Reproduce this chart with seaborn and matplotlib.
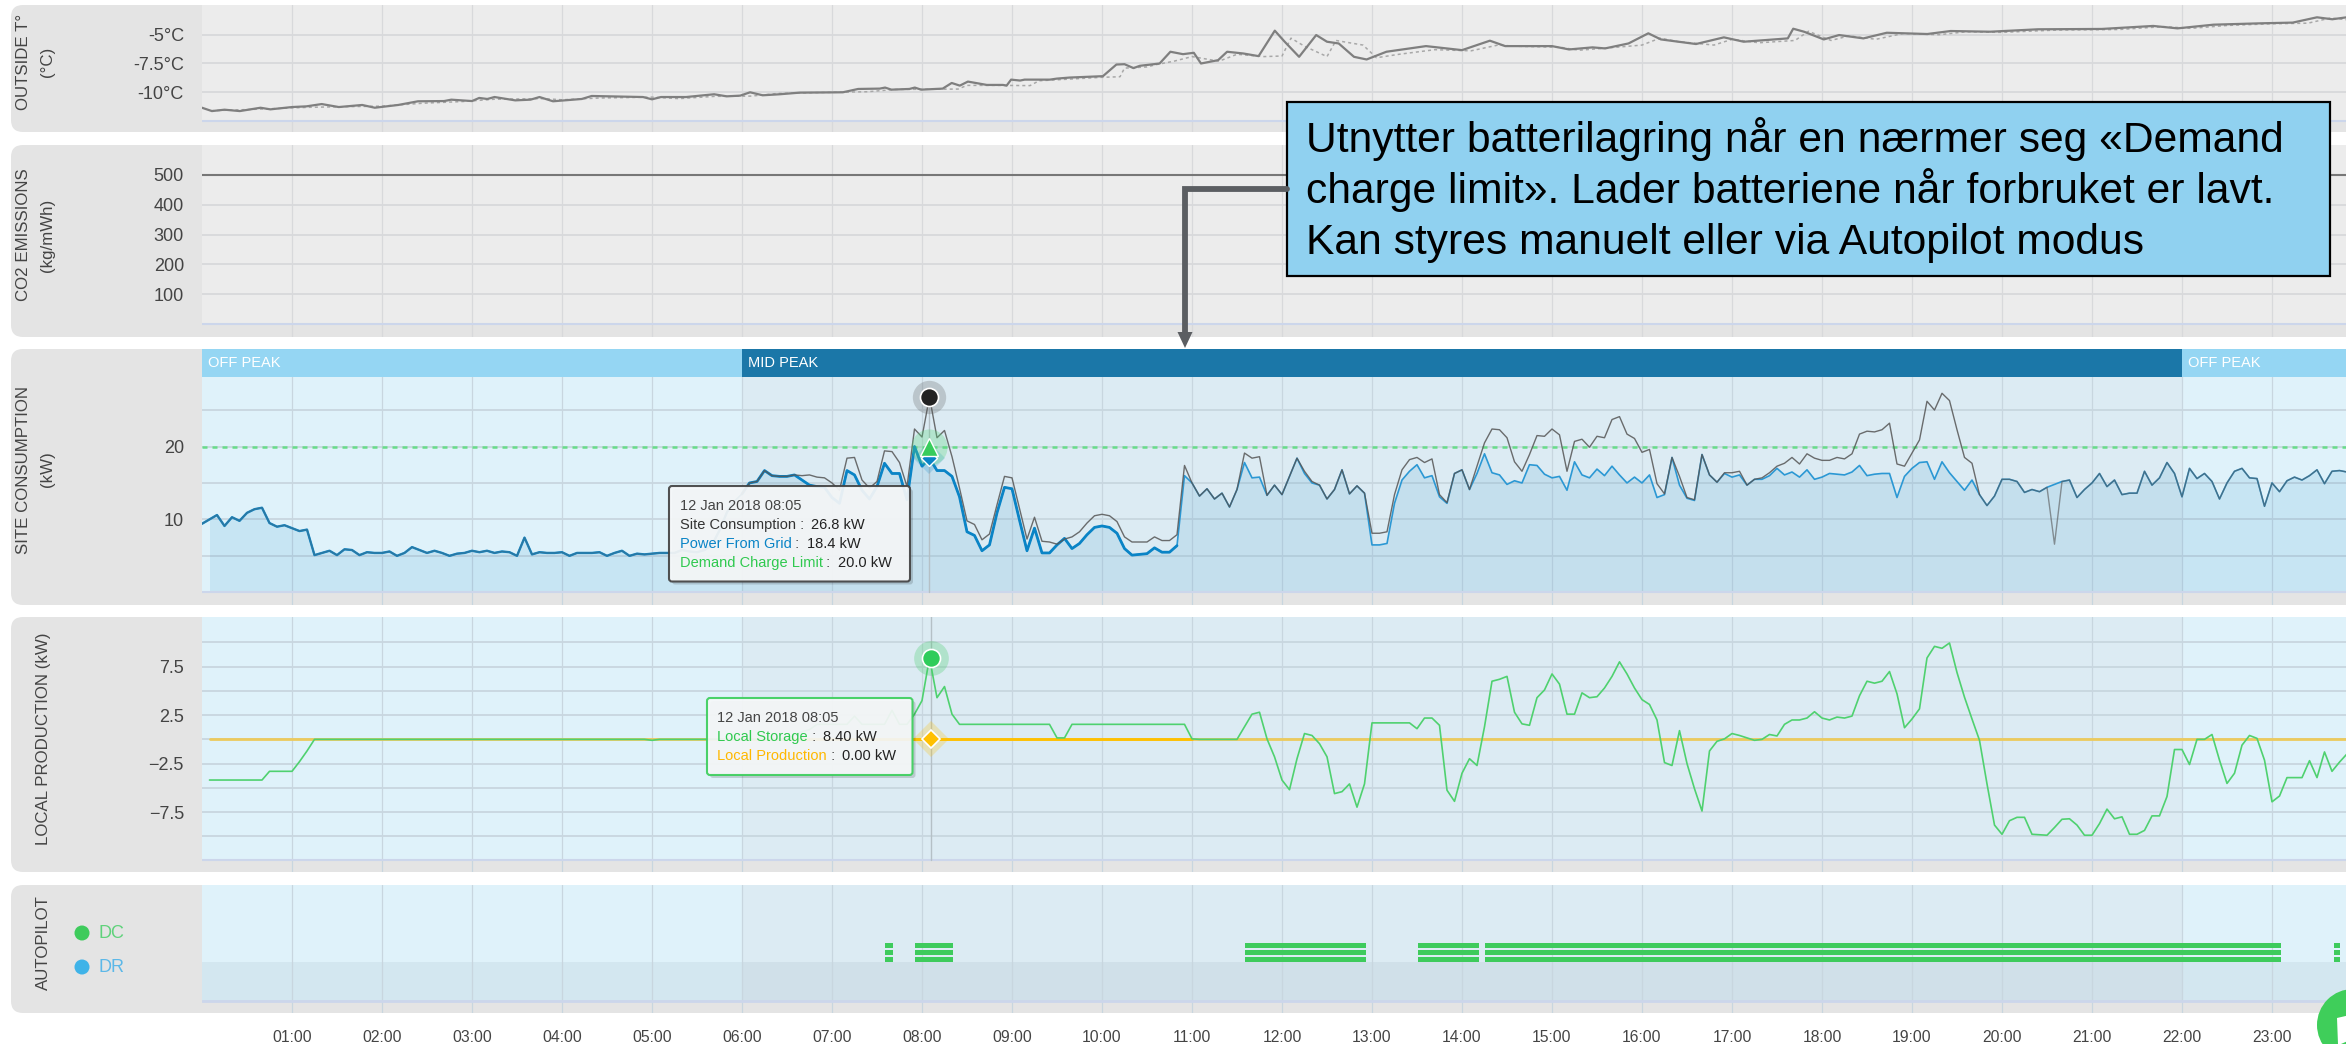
import numpy as np
import pandas as pd
import matplotlib
matplotlib.use("Agg")
import matplotlib.pyplot as plt
from matplotlib.patches import FancyBboxPatch, Rectangle, Circle, Polygon
import seaborn as sns

# ── Data ───────────────────────────────────────────────────────────────────────
hour_labels = ["01:00", "02:00", "03:00", "04:00", "05:00", "06:00", "07:00", "08:00",
               "09:00", "10:00", "11:00", "12:00", "13:00", "14:00", "15:00", "16:00",
               "17:00", "18:00", "19:00", "20:00", "21:00", "22:00", "23:00"]
hour_ticks = list(range(1, 24))

temp_hours = [0, .11, .25, .42, .65, .76, 1.0, 1.16, 1.33, 1.52, 1.78, 1.92, 2.18, 2.4, 2.69, 2.77, 3.0,
              3.08, 3.17, 3.25, 3.48, 3.65, 3.75, 3.9, 4.22, 4.33, 4.9, 5.0, 5.1, 5.38, 5.69, 5.83, 5.98,
              6.09, 6.23, 6.42, 6.64, 7.12, 7.29, 7.53, 7.59, 7.66, 7.86, 7.92, 7.99, 8.23, 8.33, 8.42,
              8.51, 8.72, 8.9, 8.94, 8.99, 9.09, 9.14, 9.42, 9.5, 9.64, 10.01, 10.16, 10.25, 10.35, 10.42,
              10.64, 10.76, 10.9, 11.02, 11.1, 11.29, 11.39, 11.57, 11.74, 11.92, 12.03, 12.19, 12.38,
              12.5, 12.63, 12.8, 12.94, 13.16, 13.6, 14.0, 14.31, 14.48, 15.0, 15.19, 15.45, 15.59, 15.85,
              16.07, 16.21, 16.6, 16.91, 17.13, 17.62, 17.68, 17.8, 18.02, 18.19, 18.46, 18.72, 19.17,
              19.43, 19.87, 20.4, 21.11, 21.68, 21.95, 22.35, 22.88, 23.23, 23.5, 23.67, 23.83]
temp_values = [-11.34, -11.63, -11.51, -11.63, -11.34, -11.48, -11.28, -11.22, -11.02, -11.28, -11.1, -11.34,
               -11.1, -10.78, -10.76, -10.64, -10.76, -10.49, -10.58, -10.41, -10.7, -10.64, -10.41, -10.78,
               -10.58, -10.32, -10.41, -10.61, -10.41, -10.41, -10.17, -10.35, -10.29, -10.0, -10.26, -10.17,
               -10.03, -10.0, -9.71, -9.68, -9.59, -9.77, -9.71, -9.59, -9.77, -9.68, -9.19, -9.42, -9.07,
               -9.36, -9.36, -9.42, -8.9, -8.98, -8.9, -8.9, -8.81, -8.72, -8.6, -7.59, -7.56, -7.9, -7.7,
               -7.5, -6.48, -6.69, -6.57, -7.5, -7.21, -6.48, -6.63, -6.86, -4.65, -5.61, -6.92, -5.03, -5.61,
               -5.76, -6.92, -7.15, -6.48, -5.99, -6.34, -5.52, -5.99, -5.99, -6.28, -6.1, -6.19, -5.76, -4.88,
               -5.41, -5.81, -5.23, -5.61, -5.32, -4.48, -4.74, -5.41, -5.03, -5.32, -4.83, -4.94, -4.68, -4.74,
               -4.53, -4.5, -4.24, -4.45, -4.13, -4.01, -3.95, -3.49, -3.66, -3.49]

temp_prev_hours = [.1, .5, .85, 1.2, 1.6, 2.0, 2.45, 2.9, 3.25, 3.8, 4.0, 4.4, 5.0, 5.3, 5.7, 6.1, 6.4, 6.8, 7.4,
                   7.7, 8.4, 8.5, 8.9, 9.2, 9.3, 10.0, 10.2, 10.25, 10.5, 10.6, 10.8, 11.0, 11.3, 11.5, 11.8,
                   12.0, 12.1, 12.25, 12.5, 12.6, 12.9, 13.05, 13.3, 13.7, 14.1, 14.4, 14.6, 15.1, 15.3, 15.7,
                   16.0, 16.2, 16.4, 16.8, 17.0, 17.3, 17.7, 17.85, 18.1, 18.3, 18.6, 18.9, 19.3, 19.6, 20.0,
                   20.6, 21.3, 21.8, 22.1, 22.5, 23.0, 23.4, 23.65, 23.83]
temp_prev_values = [-11.6, -11.5, -11.4, -11.3, -11.25, -11.2, -10.95, -10.8, -10.6, -10.55, -10.65, -10.5, -10.42,
                    -10.55, -10.35, -10.33, -10.1, -10.03, -9.95, -9.75, -9.72, -9.4, -9.4, -9.42, -9.0, -8.7,
                    -8.65, -7.9, -7.8, -7.6, -7.3, -6.9, -7.3, -6.7, -6.9, -6.85, -5.3, -6.0, -6.9, -5.5, -5.9,
                    -7.0, -6.7, -6.3, -6.4, -5.9, -6.0, -6.1, -6.35, -6.1, -5.9, -5.3, -5.6, -5.9, -5.4, -5.7,
                    -5.5, -4.7, -5.5, -5.1, -5.4, -4.9, -5.0, -4.75, -4.8, -4.6, -4.55, -4.3, -4.45, -4.2, -4.05,
                    -4.0, -3.55, -3.7]

co2_hours = [0, 24]
co2_values = [500, 500]

# 5 minute samples
power_from_grid = [
    9.4, 10.0, 10.6, 9.1, 10.3, 9.8, 10.9, 11.4, 11.6, 9.5,
    9.0, 9.2, 8.8, 8.4, 8.6, 5.1, 5.4, 5.7, 5.1, 5.9,
    5.8, 5.1, 5.5, 5.4, 5.4, 5.6, 5.0, 5.4, 6.2, 5.8,
    5.4, 5.7, 5.4, 5.0, 5.3, 5.4, 5.7, 5.5, 5.7, 5.4,
    5.6, 5.5, 5.0, 7.5, 5.2, 5.5, 5.4, 5.4, 5.5, 5.0,
    5.4, 5.4, 5.4, 5.5, 5.0, 5.4, 5.7, 5.0, 5.3, 5.2,
    5.3, 5.4, 5.4, 5.4, 5.8, 5.6, 5.5, 5.8, 6.5, 8.5,
    11.0, 12.5, 13.5, 15.0, 15.2, 16.7, 16.0, 15.9, 15.9, 16.1,
    15.4, 14.7, 14.5, 14.4, 13.0, 12.2, 16.7, 16.1, 14.0, 12.8,
    14.5, 17.7, 16.3, 16.3, 12.7, 20.0, 17.3, 18.4, 16.7, 16.7,
    15.9, 13.1, 8.3, 7.8, 5.7, 6.5, 10.9, 14.4, 14.2, 9.9,
    5.7, 8.8, 5.4, 5.4, 6.5, 7.4, 6.0, 6.7, 7.9, 8.9,
    9.1, 8.9, 8.1, 6.0, 5.1, 5.2, 5.3, 6.1, 5.5, 5.5,
    6.4, 16.0, 15.0, 13.2, 14.2, 12.8, 13.6, 11.7, 14.1, 17.8,
    15.7, 15.8, 13.3, 14.7, 13.4, 15.9, 18.4, 16.3, 15.0, 14.7,
    12.8, 14.1, 16.8, 13.5, 14.6, 13.6, 6.5, 6.5, 6.7, 12.2,
    15.4, 16.6, 17.5, 15.7, 16.0, 13.1, 12.2, 16.3, 16.8, 14.1,
    16.3, 19.0, 16.4, 16.1, 14.8, 15.3, 15.0, 17.5, 17.4, 16.2,
    15.7, 15.9, 14.0, 17.9, 16.1, 15.7, 16.9, 16.0, 17.3, 16.1,
    15.0, 15.8, 15.0, 16.1, 13.0, 13.4, 18.5, 14.7, 12.9, 12.6,
    18.9, 16.1, 15.1, 16.3, 15.8, 16.1, 14.7, 15.5, 15.5, 16.0,
    17.0, 16.1, 16.5, 15.8, 16.8, 15.5, 15.8, 16.3, 16.2, 16.1,
    16.5, 17.4, 16.0, 16.2, 16.3, 16.3, 13.0, 15.9, 17.0, 17.8,
    17.9, 15.5, 17.9, 16.4, 15.2, 14.0, 15.4, 13.4, 11.9, 13.2,
    15.5, 15.5, 15.2, 13.7, 14.1, 13.8, 14.4, 14.8, 15.2, 15.4,
    13.0, 14.1, 15.0, 16.3, 14.5, 15.4, 13.4, 13.6, 13.6, 16.6,
    14.7, 15.7, 17.8, 16.3, 13.1, 17.0, 15.6, 16.3, 15.2, 12.8,
    15.0, 16.6, 17.0, 15.7, 15.6, 11.8, 15.0, 13.8, 15.3, 15.8,
    15.4, 16.0, 16.8, 14.9, 16.6, 16.7, 16.5,
]
# same reading as the grid up to 80 and from 250 on
site_consumption = power_from_grid[:80] + [
    16.0, 16.1, 15.8, 15.7, 15.0, 14.0, 18.4, 18.5, 15.4, 14.3,
    15.2, 19.4, 19.3, 17.8, 14.5, 22.4, 21.3, 26.8, 21.2, 22.2,
    18.6, 14.3, 9.8, 9.3, 7.2, 8.0, 12.0, 15.9, 15.7, 11.5,
    7.3, 10.3, 7.0, 6.9, 6.6, 7.3, 7.6, 8.3, 9.5, 10.5,
    10.7, 10.5, 9.7, 7.6, 6.9, 6.9, 6.9, 7.6, 7.1, 7.1,
    7.9, 17.4, 15.0, 13.2, 14.2, 12.8, 13.6, 11.7, 14.1, 19.1,
    18.4, 18.6, 13.3, 14.7, 13.4, 15.9, 18.4, 16.6, 15.2, 14.7,
    12.8, 14.1, 16.8, 13.5, 14.6, 13.6, 8.1, 8.1, 8.3, 13.4,
    16.8, 18.2, 18.5, 17.8, 18.3, 13.4, 12.3, 16.3, 16.8, 14.1,
    17.3, 20.5, 22.4, 22.3, 21.2, 17.9, 16.6, 18.9, 21.5, 21.4,
    22.4, 21.6, 16.6, 20.7, 21.0, 19.9, 21.4, 21.2, 23.7, 24.1,
    21.7, 21.1, 19.2, 19.6, 14.9, 13.5, 18.5, 15.9, 13.0, 12.7,
    18.9, 16.1, 15.1, 16.4, 16.4, 16.6, 14.7, 15.5, 15.7, 16.4,
    17.3, 17.7, 18.5, 17.6, 19.0, 18.4, 18.1, 18.1, 18.5, 18.3,
    19.0, 21.7, 22.1, 22.0, 22.3, 23.2, 17.6, 17.3, 19.1, 20.9,
    26.2, 25.0, 27.3, 26.3, 22.3, 18.5, 17.7, 13.4, 11.9, 13.2,
    15.5, 15.5, 15.2, 13.7, 14.1, 13.8, 14.4, 6.6, 15.2, 15.4,
] + power_from_grid[250:]

local_storage = [np.nan] + [-4.2] * 8 + [-3.3] * 4 + [-2.3, -1.2] + [0.0] * 45 + [-0.1] + [0.0] * 18 + [
    0.5, 0.8, 1.0, 1.55, 1.55, 1.55, 1.55, 1.55, 2.4, 1.55,
    1.55, 1.55, 1.55, 3.0, 1.55, 1.55, 2.6, 4.0, 8.4, 4.3, 5.45,
    2.6] + [1.55] * 13 + [0.15, 0.15] + [1.55] * 16 + [0.05] + [0.0] * 6 + [
    1.3,
    2.6, 2.8, .05, -1.8, -4.2, -5.2, -2, .6, .4, -.45,
    -1.8, -5.6, -5.4, -4.6, -7, -4.6, 1.7, 1.7, 1.7, 1.7,
    1.7, 1.7, 1.1, 2.2, 2.2, 1.45, -5.25, -6.4, -3.5, -2,
    -2.7, 1.3, 6, 6.2, 6.5, 2.8, 1.6, 1.45, 4.3, 5.1,
    6.75, 5.7, 2.6, 2.6, 4.8, 4.3, 4.4, 5.3, 6.5, 8,
    6.75, 5.3, 4.1, 3.6, 2, -2.4, -2.7, .9, -2.5, -5.1,
    -7.4, -1.2, -.2, .05, .6, .4, .15, -.1, 0, .5,
    .35, 1.55, 2, 2, 2.2, 2.85, 2.2, 2, 2.3, 2.2,
    2.4, 4.5, 6, 5.8, 6, 7, 4.7, 1.2, 2.1, 3.15,
    8.4, 9.6, 9.4, 9.95, 6.9, 4.35, 2.1, -.1, -4.6, -8.85,
    -9.8, -8.4, -8.05, -8.05, -9.8, -9.85, -9.9, -9.1, -8.25, -8.2,
    -8.85, -9.9, -9.9, -8.7, -7.2, -8.2, -8, -9.8, -9.8, -9.4,
    -7.9, -7.9, -5.9, -1.05, -1.05, -2.6, 0, 0, .5, -2.15,
    -4.55, -3.5, -.6, .4, .1, -2.15, -6.45, -5.85, -3.95, -3.95,
    -3.95, -2.2, -3.95, -1.3, -3.3, -2.35, -1.5,
]

limit_hours = [0, 24]
demand_limit = [20, 20]
local_prod_hours = [1 / 12, 6, 11, 24]
local_production = [0, 0, 0, 0]

autopilot_start = [7.586, 7.92, 11.59, 13.51, 14.26, 23.69]
autopilot_end = [7.678, 8.34, 12.93, 14.19, 23.10, 23.76]

# ── Layout, in reference pixels ────────────────────────────────────────────────
W, H = 2346, 1044
X0 = 202
HOUR_PX = 90
XMAX = (W - X0) / HOUR_PX
SAMPLE = 97  # 08:05 hover

GREY = "#e4e4e4"
PLOT_GREY = "#ececec"
OFF_BG = "#dff2fa"
MID_BG = "#dcebf3"
OFF_HEAD = "#95d6f3"
MID_HEAD = "#1b77a8"
BLUE = "#0a84c6"
DARK = "#555555"
GREEN = "#4fd16f"
ORANGE = "#ffc000"
TXT = "#444444"
GRID_C = "#c8d6df"

sns.set_style("white")
plt.rcParams["font.family"] = ["Liberation Sans", "DejaVu Sans"]

fig = plt.figure(figsize=(W / 100, H / 100), dpi=100, facecolor="white")


def px_axes(zorder=1):
    a = fig.add_axes([0, 0, 1, 1], zorder=zorder)
    a.set_xlim(0, W)
    a.set_ylim(H, 0)
    a.axis("off")
    return a


back = px_axes(0)
over = px_axes(10)

panels = [(5, 132), (145, 337), (349, 605), (617, 872), (885, 1013)]
for top, bot in panels:
    back.add_patch(FancyBboxPatch((11, top), W + 60, bot - top,
                                  boxstyle="round,pad=0,rounding_size=12",
                                  fc=GREY, ec="none", mutation_aspect=1))


def chart_axes(top, bot, p0, v0, p1, v1, grid_c, major, minor=()):
    # axis spans the whole panel; limits come from two gridline positions
    ax = fig.add_axes([X0 / W, 1 - bot / H, (W - X0) / W, (bot - top) / H], zorder=2)
    ax.patch.set_alpha(0)
    per_px = (v1 - v0) / (p1 - p0)
    ax.set_ylim(v0 + (bot - p0) * per_px, v0 + (top - p0) * per_px)
    ax.set_xlim(0, XMAX)
    ax.set_xticks(hour_ticks)
    ax.set_xticklabels([])
    ax.set_yticks(list(major))
    ax.set_yticks(list(minor), minor=True)
    ax.tick_params(axis="both", which="both", length=0)
    ax.tick_params(axis="y", labelsize=13, labelcolor=TXT, pad=13)
    ax.set_axisbelow(True)
    ax.grid(axis="x", color=grid_c, lw=0.9)
    ax.grid(axis="y", which="both", color=grid_c, lw=1.3)
    sns.despine(ax=ax, left=True, bottom=True)
    ax.set_xlabel("")
    ax.set_ylabel("")
    return ax


def tou_background(ax, y0, y1):
    for a, b, c in [(0, 6, OFF_BG), (6, 22, MID_BG), (22, 24, OFF_BG)]:
        ax.fill_between([a, b], y0, y1, color=c, lw=0, zorder=0.1)


def line(ax, x, y, **kw):
    d = pd.DataFrame({"x": x, "y": y}).dropna()
    sns.lineplot(data=d, x="x", y="y", ax=ax, estimator=None, errorbar=None, **kw)
    ax.set_xlabel("")
    ax.set_ylabel("")


samples = np.arange(len(power_from_grid)) / 12
df = pd.DataFrame({"hour": samples, "grid": power_from_grid,
                   "site": site_consumption, "storage": local_storage})

# ── Outside temperature ────────────────────────────────────────────────────────
ax1 = chart_axes(5, 132, 34.7, -5, 92.3, -10, "#d8d9db", [-5, -7.5, -10], [-12.5])
ax1.set_yticklabels(["-5°C", "-7.5°C", "-10°C"])
ax1.fill_between([0, 24], -12.5, -2, color=PLOT_GREY, lw=0, zorder=0.1)
line(ax1, temp_prev_hours, temp_prev_values, color="#a8a8a8", lw=1.1, linestyle=(0, (2, 2)))
line(ax1, temp_hours, temp_values, color="#7f7f7f", lw=1.6)

# ── CO2 ────────────────────────────────────────────────────────────────────────
ax2 = chart_axes(145, 337, 174.7, 500, 324.3, 0, "#d8d9db", [500, 400, 300, 200, 100], [0])
ax2.fill_between([0, 24], 0, 600, color=PLOT_GREY, lw=0, zorder=0.1)
line(ax2, co2_hours, co2_values, color="#777777", lw=1.5)

# ── Site consumption ───────────────────────────────────────────────────────────
ax3 = chart_axes(349, 605, 446.5, 20, 592.3, 0, GRID_C, [10, 20], [0, 5, 15, 25])
tou_background(ax3, 0, 29.6)
ax3.fill_between(samples[1:], 0, power_from_grid[1:], color="#2a8fc8", alpha=0.13, lw=0, zorder=1)
line(ax3, limit_hours, demand_limit, color="#68dc8a", lw=1.8, linestyle=(0, (2, 2)), zorder=2)
thick = df[(df.hour >= 6) & (df.hour <= 10.85)]
line(ax3, df.hour, df.grid, color="#2b98d4", lw=1.2, zorder=3)
line(ax3, thick.hour, thick.grid, color=BLUE, lw=2.0, zorder=3)
line(ax3, df.hour[:72], df.grid[:72], color="#1b86c0", lw=1.7, zorder=3)
# grey trace sits almost fully under the blue one at both ends of the day
line(ax3, df.hour[:73], df.site[:73], color=DARK, lw=0.9, alpha=0.3, zorder=4)
line(ax3, df.hour[72:238], df.site[72:238], color=DARK, lw=1.0, alpha=0.85, zorder=4)
line(ax3, df.hour[237:], df.site[237:], color=DARK, lw=1.0, alpha=0.6, zorder=4)
for a, b, c, t in [(0, 6, OFF_HEAD, "OFF PEAK"), (6, 22, MID_HEAD, "MID PEAK"), (22, 24, OFF_HEAD, "OFF PEAK")]:
    ax3.fill_between([a, b], 29.6, 36, color=c, lw=0, zorder=2.5)
    ax3.text(a + 0.07, 31.5, t, color="white", fontsize=10.5, va="center", zorder=3)
hover_x = samples[SAMPLE]
ax3.plot([hover_x, hover_x], [0, 26.8], color="#b5c0c6", lw=1, zorder=1.5)
ax3.plot(hover_x, site_consumption[SAMPLE], "o", ms=24, color="#555555", alpha=0.25, mew=0, zorder=5)
ax3.plot(hover_x, site_consumption[SAMPLE], "o", ms=13, mfc="#222222", mec="white", mew=1.2, zorder=6)
ax3.plot(hover_x, power_from_grid[SAMPLE], "D", ms=16, color=BLUE, alpha=0.2, mew=0, zorder=5)
ax3.plot(hover_x, power_from_grid[SAMPLE], "D", ms=8, mfc=BLUE, mec="white", mew=1, zorder=6)
ax3.plot(hover_x, demand_limit[0], "o", ms=26, color="#55d77a", alpha=0.3, mew=0, zorder=5)
ax3.plot(hover_x, demand_limit[0], "^", ms=13, mfc="#38cc5c", mec="white", mew=1, zorder=6)

# ── Local production ───────────────────────────────────────────────────────────
ax4 = chart_axes(617, 872, 666.7, 7.5, 812, -7.5, GRID_C, [7.5, 2.5, -2.5, -7.5], [10, 5, 0, -5, -10, -12.5])
tou_background(ax4, -12.5, 13)
line(ax4, local_prod_hours, local_production, color="#ecca5c", lw=2.0, zorder=2)
line(ax4, local_prod_hours[1:3], local_production[1:3], color=ORANGE, lw=2.0, zorder=2.1)
line(ax4, df.hour, df.storage, color=GREEN, lw=1.2, zorder=3)
ax4.plot([hover_x + 0.02, hover_x + 0.02], [-12.5, 13], color="#b5c0c6", lw=1, zorder=1.5)
ax4.plot(hover_x + 0.02, local_storage[SAMPLE], "o", ms=25, color="#40cc66", alpha=0.28, mew=0, zorder=5)
ax4.plot(hover_x + 0.02, local_storage[SAMPLE], "o", ms=13, mfc="#2ecc5a", mec="white", mew=1.2, zorder=6)
ax4.plot(hover_x + 0.02, 0, "D", ms=18, color=ORANGE, alpha=0.25, mew=0, zorder=5)
ax4.plot(hover_x + 0.02, 0, "D", ms=9, mfc=ORANGE, mec="white", mew=1.2, zorder=6)

# ── Autopilot ──────────────────────────────────────────────────────────────────
ax5 = chart_axes(885, 1013, 885, 885, 1013, 1013, GRID_C, [], [])
ax5.fill_between([0, 6], 1001, 885, color=OFF_BG, lw=0, zorder=0.1)
ax5.fill_between([6, 22], 1001, 885, color=MID_BG, lw=0, zorder=0.1)
ax5.fill_between([22, 24], 1001, 885, color=OFF_BG, lw=0, zorder=0.1)
ax5.fill_between([0, 24], 1001, 962, color="#7f98a8", alpha=0.12, lw=0, zorder=0.2)
ax5.plot([0, 24], [1001, 1001], color="#ccd6eb", lw=2, zorder=1)
for row in [945, 952.6, 959.6]:
    ax5.barh([row] * len(autopilot_start),
             np.array(autopilot_end) - np.array(autopilot_start),
             left=autopilot_start, height=5, color="#3ecb5c", lw=0, zorder=3)
ax5.set_xticklabels(hour_labels, fontsize=11.3, color=TXT)
ax5.tick_params(axis="x", pad=12)

# plot-bottom lines on the other panels
for a, v in [(ax1, -12.5), (ax2, 0), (ax3, 0), (ax4, -12.5)]:
    a.axhline(v, color="#ccd6eb", lw=1.5, zorder=1)

# ── Panel labels ───────────────────────────────────────────────────────────────
lab = dict(rotation=90, ha="center", va="center", color=TXT, fontsize=12.2)
over.text(24, 62, "OUTSIDE T°", **lab)
over.text(47, 62, "(°C)", **lab)
over.text(24, 235, "CO2 EMISSIONS", **lab)
over.text(47, 235, "(kg/mWh)", **lab)
over.text(24, 470, "SITE CONSUMPTION", **lab)
over.text(47, 469, "(kW)", **lab)
over.text(44, 739, "LOCAL PRODUCTION (kW)", **lab)
over.text(43.5, 943, "AUTOPILOT", **lab)
over.add_patch(Circle((82, 933), 7.5, fc="#3ecb5c", ec="none"))
over.add_patch(Circle((82, 967), 7.5, fc="#3fb3e8", ec="none"))
over.text(99, 933, "DC", color="#5fd27b", fontsize=13, va="center")
over.text(99, 967, "DR", color="#5cb8e8", fontsize=13, va="center")


# ── Tooltips ───────────────────────────────────────────────────────────────────
def tooltip(x0, y0, x1, y1, edge, rows, tx):
    over.add_patch(FancyBboxPatch((x0 + 3, y0 + 3), x1 - x0, y1 - y0, boxstyle="round,pad=0,rounding_size=3",
                                  fc="black", ec="none", alpha=0.15))
    over.add_patch(FancyBboxPatch((x0, y0), x1 - x0, y1 - y0, boxstyle="round,pad=0,rounding_size=3",
                                  fc="#f6f8f9", ec=edge, lw=1.5, alpha=0.93))
    rend = fig.canvas.get_renderer()
    for yy, parts in rows:
        x = tx
        for s, c in parts:
            t = over.text(x, yy, s, color=c, fontsize=10.5, va="center")
            x += t.get_window_extent(rend).width + (3.5 if s.endswith(" ") else 0)


tooltip(669, 486, 910, 581.5, "#444444", [
    (505.7, [("12 Jan 2018 08:05", TXT)]),
    (525, [("Site Consumption", "#333333"), (" : ", TXT), ("26.8 kW", "#222222")]),
    (544, [("Power From Grid", "#0a84c6"), (" : ", TXT), ("18.4 kW", "#222222")]),
    (563, [("Demand Charge Limit", "#2fc94f"), (" : ", TXT), ("20.0 kW", "#222222")]),
], 679.5)
tooltip(707, 698, 912.5, 775, "#3ecf5e", [
    (717.7, [("12 Jan 2018 08:05", TXT)]),
    (736.7, [("Local Storage", "#2fc94f"), (" : ", TXT), ("8.40 kW", "#222222")]),
    (756, [("Local Production", "#ffb800"), (" : ", TXT), ("0.00 kW", "#222222")]),
], 717)

# ── Callout and arrow ──────────────────────────────────────────────────────────
over.plot([1287, 1185, 1185], [189, 189, 334], color="#5b5e62", lw=4.2, solid_joinstyle="miter")
over.add_patch(Polygon([(1177.5, 332), (1192.5, 332), (1185, 348)], fc="#5b5e62", ec="none"))
over.add_patch(Rectangle((1287, 102), 1043, 174, fc="#90d1f0", ec="black", lw=1.6))
for yy, s in [(151.7, "Utnytter batterilagring når en nærmer seg «Demand"),
              (203, "charge limit». Lader batteriene når forbruket er lavt."),
              (254, "Kan styres manuelt eller via Autopilot modus")]:
    over.text(1306.5, yy, s, color="black", fontsize=30.7, va="baseline")

# chat button in the corner
over.add_patch(Circle((2353, 1025), 36, fc="#3fce5a", ec="none"))
over.add_patch(Polygon([(2337, 1018), (2350, 1015), (2350, 1040), (2341, 1044), (2338, 1044)], fc="white", ec="none"))

fig.savefig("out.png", dpi=100)
